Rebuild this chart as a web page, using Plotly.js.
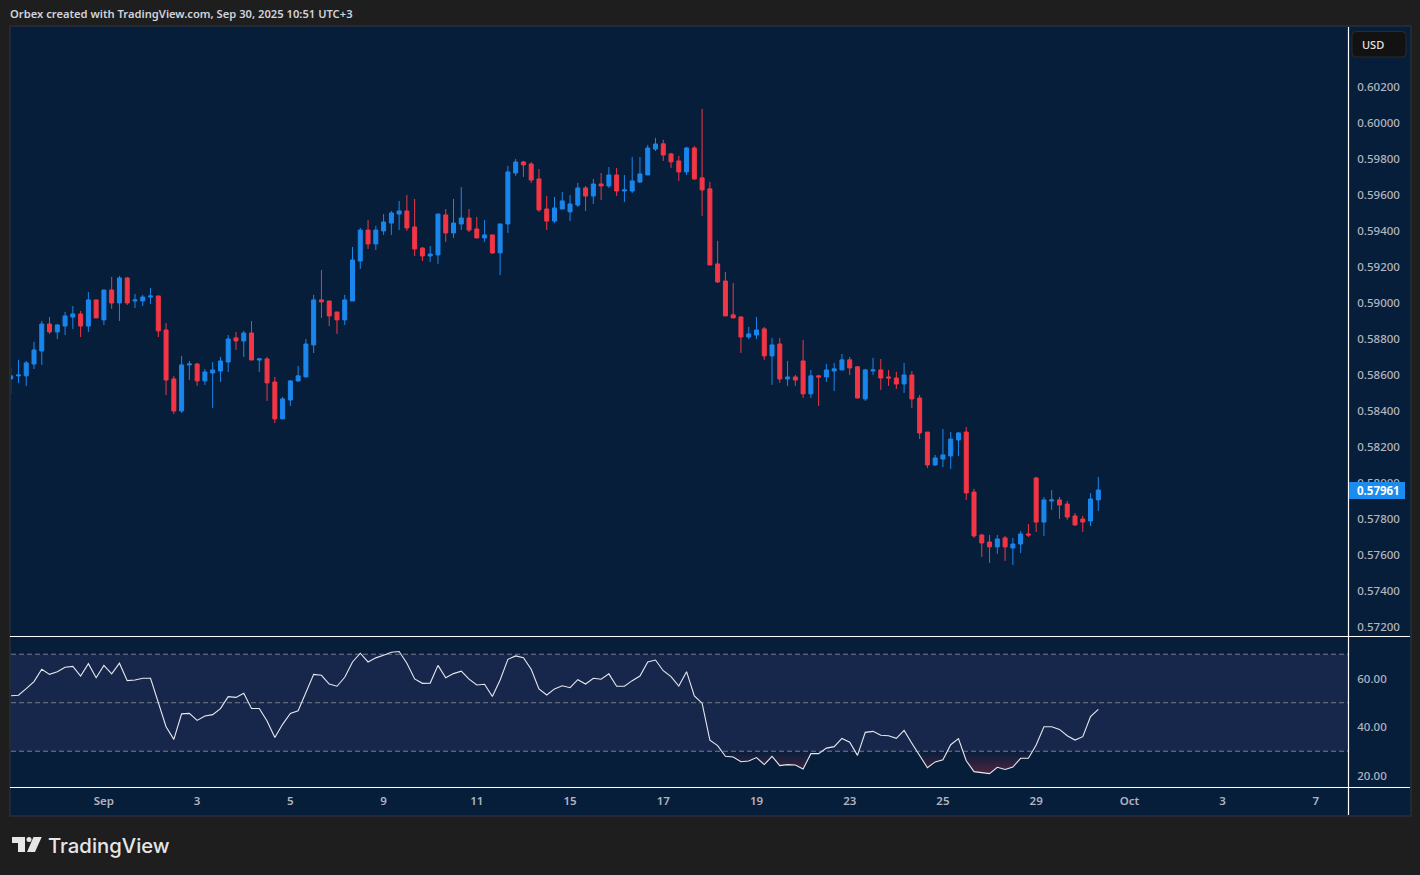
<!DOCTYPE html>
<html><head><meta charset="utf-8">
<script src="https://cdn.plot.ly/plotly-3.0.1.min.js"></script>
<style>html,body{margin:0;padding:0;background:#1e1e1e}#c{width:1420px;height:875px}</style>
</head><body><div id="c"></div>
<script>
const opens=[.58578,.58595,.58595,.58661,.58733,.58883,.58839,.58872,.58922,.58939,
.58872,.59017,.58906,.59072,.59000,.59139,.59011,.59011,.59033,.59039,
.58850,.58578,.58400,.58656,.58661,.58567,.58611,.58622,.58672,.58806,
.58789,.58833,.58683,.58689,.58561,.58356,.58461,.58567,.58589,.58767,
.59017,.59011,.58950,.58906,.59011,.59233,.59405,.59328,.59400,.59444,
.59494,.59511,.59422,.59305,.59261,.59267,.59489,.59389,.59439,.59472,
.59411,.59361,.59378,.59278,.59439,.59722,.59783,.59772,.59689,.59522,
.59455,.59522,.59506,.59544,.59639,.59594,.59661,.59650,.59711,.59622,
.59622,.59672,.59711,.59855,.59884,.59828,.59789,.59728,.59861,.59695,
.59634,.59217,.59122,.58934,.58922,.58811,.58822,.58856,.58706,.58772,
.58578,.58589,.58678,.58495,.58595,.58589,.58622,.58628,.58684,.58645,
.58467,.58622,.58628,.58589,.58583,.58550,.58600,.58472,.58283,.58100,
.58133,.58150,.58239,.58283,.57950,.57711,.57672,.57645,.57695,.57639,
.57661,.57717,.58028,.57783,.57900,.57906,.57883,.57817,.57800,.57789,.57906];
const highs=[.58639,.58683,.58678,.58783,.58900,.58922,.58883,.58950,.58983,.58956,
.59061,.59017,.59072,.59145,.59150,.59145,.59050,.59045,.59083,.59039,
.58889,.58595,.58706,.58678,.58667,.58633,.58672,.58700,.58822,.58839,
.58845,.58900,.58695,.58700,.58589,.58478,.58572,.58650,.58800,.59045,
.59183,.59011,.58950,.59045,.59311,.59417,.59461,.59428,.59494,.59511,
.59567,.59600,.59578,.59311,.59317,.59494,.59522,.59578,.59644,.59522,
.59478,.59461,.59378,.59439,.59761,.59800,.59789,.59783,.59744,.59594,
.59589,.59617,.59600,.59667,.59650,.59689,.59722,.59755,.59750,.59711,
.59811,.59811,.59878,.59917,.59906,.59834,.59817,.59867,.59872,.60078,
.59672,.59345,.59172,.59111,.58928,.58867,.58922,.58867,.58806,.58806,
.58678,.58600,.58795,.58628,.58600,.58661,.58667,.58717,.58700,.58650,
.58634,.58695,.58689,.58628,.58617,.58667,.58622,.58489,.58283,.58156,
.58300,.58283,.58283,.58311,.57967,.57717,.57711,.57711,.57706,.57695,
.57733,.57772,.58033,.57922,.57961,.57922,.57900,.57833,.57817,.57944,.58033];
const lows=[.58495,.58556,.58539,.58633,.58656,.58828,.58800,.58822,.58856,.58811,
.58839,.58917,.58878,.58967,.58900,.58989,.58972,.58983,.58995,.58811,
.58489,.58383,.58389,.58572,.58539,.58545,.58417,.58561,.58617,.58739,
.58700,.58683,.58617,.58456,.58333,.58356,.58428,.58561,.58589,.58722,
.58917,.58872,.58828,.58878,.59011,.59189,.59300,.59294,.59378,.59378,
.59405,.59400,.59261,.59233,.59228,.59217,.59339,.59361,.59405,.59394,
.59361,.59339,.59272,.59155,.59389,.59706,.59700,.59667,.59506,.59405,
.59444,.59522,.59455,.59533,.59511,.59550,.59572,.59639,.59594,.59561,
.59611,.59667,.59711,.59844,.59789,.59750,.59678,.59711,.59684,.59484,
.59211,.59111,.58928,.58917,.58722,.58800,.58800,.58684,.58545,.58556,
.58539,.58539,.58472,.58472,.58428,.58561,.58511,.58628,.58600,.58472,
.58456,.58600,.58517,.58539,.58522,.58500,.58417,.58244,.58083,.58095,
.58089,.58078,.58150,.57906,.57695,.57589,.57556,.57606,.57567,.57545,
.57611,.57700,.57728,.57706,.57850,.57800,.57795,.57761,.57728,.57761,.57845];
const closes=[.58595,.58600,.58667,.58739,.58883,.58839,.58878,.58928,.58939,.58872,
.59017,.58917,.59072,.59000,.59139,.59000,.59017,.59033,.59039,.58845,
.58572,.58400,.58656,.58661,.58567,.58617,.58628,.58678,.58800,.58789,
.58833,.58683,.58689,.58556,.58356,.58467,.58567,.58595,.58772,.59017,
.59006,.58928,.58906,.59017,.59239,.59405,.59328,.59405,.59450,.59500,
.59511,.59417,.59300,.59261,.59272,.59494,.59389,.59444,.59472,.59405,
.59361,.59378,.59278,.59439,.59728,.59783,.59767,.59683,.59517,.59455,
.59528,.59567,.59550,.59639,.59594,.59661,.59650,.59711,.59622,.59628,
.59678,.59717,.59861,.59883,.59822,.59784,.59728,.59861,.59689,.59628,
.59211,.59117,.58928,.58917,.58811,.58828,.58850,.58706,.58767,.58578,
.58589,.58572,.58495,.58595,.58589,.58628,.58634,.58684,.58639,.58472,
.58628,.58628,.58583,.58583,.58550,.58600,.58467,.58278,.58100,.58139,
.58156,.58244,.58278,.57945,.57706,.57667,.57645,.57689,.57645,.57661,
.57717,.57711,.57783,.57906,.57906,.57878,.57811,.57767,.57783,.57911,.57961];
const rsi=[52.9,53.1,55.8,58.7,63.8,61.7,62.8,64.6,65.0,61.0,
66.1,60.3,65.4,61.9,66.3,59.1,59.4,60.1,60.1,49.8,
40.1,34.9,45.4,45.6,42.7,44.5,45.1,47.6,52.5,52.2,
53.9,47.6,47.6,42.5,35.7,41.1,45.6,46.7,54.2,61.7,
61.3,57.7,56.8,60.5,66.8,70.4,66.8,68.5,69.6,70.8,
71.1,66.3,59.8,58.0,58.1,65.4,60.3,62.0,63.0,59.7,
57.3,57.6,52.6,59.4,67.9,69.3,68.6,63.8,55.7,53.2,
55.7,57.0,56.2,59.5,57.7,60.1,59.7,61.9,56.8,56.8,
59.1,61.0,66.8,67.6,63.2,60.8,56.9,62.8,52.8,49.8,
34.6,32.3,27.9,27.6,25.7,26.0,27.4,24.5,27.9,24.1,
24.5,24.3,22.7,29.0,29.0,31.3,31.9,35.3,33.7,28.3,
37.8,38.2,36.6,36.4,35.3,38.6,33.3,28.0,23.2,25.6,
26.5,32.7,35.2,26.1,21.6,21.2,20.8,23.4,22.5,23.5,
27.1,27.1,32.6,40.1,40.1,39.0,36.4,34.6,36.0,44.3,47.3];
const tickBars=[12,24,36,48,60,72,84,96,108,120,132,144,156,168];
const tickLabels=['Sep','3','5','9','11','15','17','19','23','25','29','Oct','3','7'];
const priceTicks=[.572,.574,.576,.578,.58,.582,.584,.586,.588,.59,.592,.594,.596,.598,.6,.602];
const rsiTicks=[20,40,60];
const lastPrice=0.57961;

const W=1420,H=875;
const fx=x=>x/W, fy=y=>1-y/H;
const bars=opens.map((_,i)=>i);
const PAGE='#1e1e1e',PANE='#071e3b',BAND='#17274c',EDGE='#2a2e39',TXT='#b2b5be';
const UP='#1a86ec',DOWN='#f23645';
const line=(x0,y0,x1,y1,c,w)=>({type:'line',xref:'paper',yref:'paper',x0:fx(x0),y0:fy(y0),x1:fx(x1),y1:fy(y1),line:{color:c,width:w},layer:'above'});
const P=(pts)=>'M '+pts.map(p=>fx(p[0])+','+fy(p[1])).join(' L ')+' Z';
const solid=(pts,c)=>({type:'path',xref:'paper',yref:'paper',path:P(pts),fillcolor:c,line:{width:0},layer:'above'});
const dash=v=>({type:'line',xref:'paper',x0:fx(11),x1:fx(1348),yref:'y2',y0:v,y1:v,line:{color:'#787b86',width:1,dash:'5px,3px'},layer:'below'});

const traces=[
 {type:'candlestick',x:bars,open:opens,high:highs,low:lows,close:closes,xaxis:'x',yaxis:'y',
  increasing:{line:{color:UP,width:1},fillcolor:UP},decreasing:{line:{color:DOWN,width:1},fillcolor:DOWN},
  whiskerwidth:0,showlegend:false,hoverinfo:'skip'},
 {type:'scatter',mode:'lines',x:bars,y:rsi.map(()=>30),xaxis:'x',yaxis:'y2',line:{width:0},showlegend:false,hoverinfo:'skip'},
 {type:'scatter',mode:'lines',x:bars,y:rsi.map(v=>Math.min(v,30)),xaxis:'x',yaxis:'y2',line:{width:0},fill:'tonexty',
  fillgradient:{type:'vertical',start:30,stop:20,colorscale:[[0,'rgba(242,54,69,0)'],[1,'rgba(242,54,69,0.32)']]},showlegend:false,hoverinfo:'skip'},
 {type:'scatter',mode:'lines',x:bars,y:rsi,xaxis:'x',yaxis:'y2',line:{color:'#e6e8ee',width:1.1},showlegend:false,hoverinfo:'skip'}
];
const font={family:'"Noto Sans","Open Sans",sans-serif',size:11.5,color:TXT};
const layout={
 width:W,height:H,margin:{l:0,r:0,t:0,b:0},paper_bgcolor:PAGE,plot_bgcolor:'rgba(0,0,0,0)',font,showlegend:false,boxgap:0.485,boxgroupgap:0,
 title:{text:'Orbex created with TradingView.com, Sep 30, 2025 10:51 UTC+3',x:fx(10),xanchor:'left',xref:'paper',y:fy(14.5),yanchor:'middle',
  font:{family:'"Noto Sans",sans-serif',size:11.2,color:'#d1d4dc',weight:600}},
 xaxis:{domain:[fx(11),fx(1348)],range:[0.04,172.14],anchor:'y2',tickmode:'array',tickvals:tickBars,ticktext:tickLabels,
  showgrid:false,zeroline:false,showline:false,ticks:'outside',ticklen:3,tickcolor:'rgba(0,0,0,0)',rangeslider:{visible:false},
  tickfont:{...font,weight:600},fixedrange:true},
 yaxis:{domain:[fy(636),fy(27)],range:[.5715,.60533],side:'right',anchor:'x',tickmode:'array',tickvals:priceTicks,tickformat:'.5f',
  showgrid:false,zeroline:false,showline:false,ticks:'outside',ticklen:6,tickcolor:'rgba(0,0,0,0)',tickfont:{...font,weight:500},fixedrange:true},
 yaxis2:{domain:[fy(787),fy(637)],range:[15.26,77.1],side:'right',anchor:'x',tickmode:'array',tickvals:rsiTicks,tickformat:'.2f',
  showgrid:false,zeroline:false,showline:false,ticks:'outside',ticklen:6,tickcolor:'rgba(0,0,0,0)',tickfont:{...font,weight:500},fixedrange:true},
 shapes:[
  {type:'rect',xref:'paper',yref:'paper',x0:fx(10),x1:fx(1411),y0:fy(816),y1:fy(26),fillcolor:PANE,line:{color:EDGE,width:1.5},layer:'below'},
  {type:'rect',xref:'paper',x0:fx(11),x1:fx(1348),yref:'y2',y0:30,y1:70,fillcolor:BAND,line:{width:0},layer:'below'},
  dash(70),dash(50),dash(30),
  line(10,636.5,1410,636.5,'#ffffff',1.2),
  line(10,787.5,1410,787.5,'#ffffff',1.2),
  line(1348.5,27,1348.5,815,'#ffffff',1.2),
  {type:'path',xref:'paper',yref:'paper',layer:'above',fillcolor:'#121212',line:{color:'#2b2b2b',width:1},
   path:`M ${fx(1356)},${fy(31.5)} L ${fx(1402)},${fy(31.5)} Q ${fx(1406)},${fy(31.5)} ${fx(1406)},${fy(35.5)} L ${fx(1406)},${fy(53)} Q ${fx(1406)},${fy(57)} ${fx(1402)},${fy(57)} L ${fx(1356)},${fy(57)} Q ${fx(1352)},${fy(57)} ${fx(1352)},${fy(53)} L ${fx(1352)},${fy(35.5)} Q ${fx(1352)},${fy(31.5)} ${fx(1356)},${fy(31.5)} Z`},
  {type:'rect',xref:'paper',yref:'paper',x0:fx(1349),x1:fx(1405),y0:fy(482),y1:fy(499),fillcolor:'#1a8cf0',line:{width:0},layer:'above'},
  solid([[12,837],[25,837],[25,852],[18,852],[18,843],[12,843]],'#e6e6e6'),
  solid([[33.5,837],[41.7,837],[35,852],[27,852]],'#e6e6e6'),
  {type:'circle',xref:'paper',yref:'paper',x0:fx(26.5),x1:fx(31.5),y0:fy(842),y1:fy(837),fillcolor:'#e6e6e6',line:{width:0},layer:'above'}
 ],
 annotations:[
  {xref:'paper',yref:'paper',x:fx(1360),y:fy(44.5),xanchor:'left',yanchor:'middle',text:'USD',showarrow:false,font:{family:'"Noto Sans",sans-serif',size:11,color:'#e6e6e6',weight:500}},
  {xref:'paper',yref:'y',x:fx(1355),y:lastPrice,xanchor:'left',yanchor:'middle',text:lastPrice.toFixed(5),showarrow:false,font:{family:'"Noto Sans",sans-serif',size:11.5,color:'#ffffff',weight:700}},
  {xref:'paper',yref:'paper',x:fx(46),y:fy(845),xanchor:'left',yanchor:'middle',text:'TradingView',showarrow:false,font:{family:'Inter,sans-serif',size:20.3,color:'#e6e6e6',weight:500}}
 ]
};
Plotly.newPlot('c',traces,layout,{displayModeBar:false,staticPlot:true});
</script></body></html>
